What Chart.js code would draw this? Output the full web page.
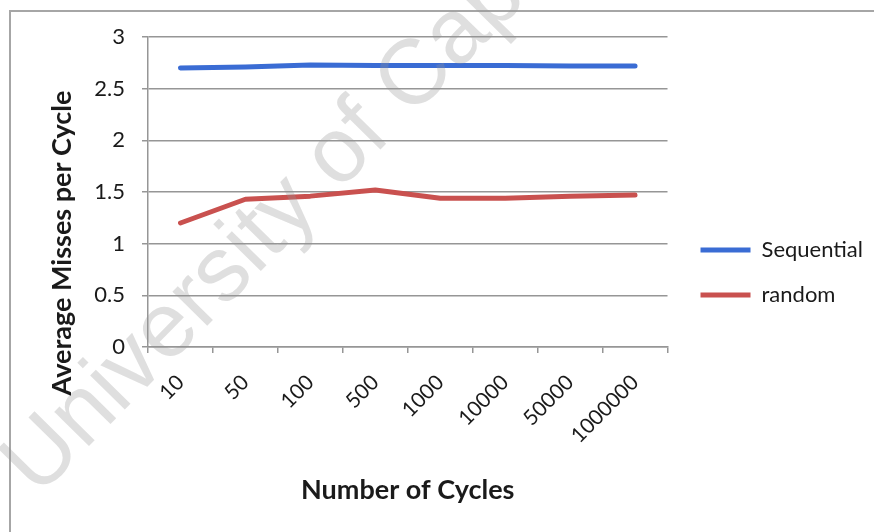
<!DOCTYPE html>
<html>
<head>
<meta charset="utf-8">
<script src="https://cdn.jsdelivr.net/npm/chart.js@4"></script>
<style>
  html, body { margin: 0; padding: 0; background: #ffffff; }
  #wrap { width: 874px; height: 532px; position: relative; }
</style>
</head>
<body>
<div id="wrap"><canvas id="c" width="874" height="532"></canvas></div>
<script>
const categories = ['10', '50', '100', '500', '1000', '10000', '50000', '1000000'];
const sequential = [2.70, 2.71, 2.73, 2.725, 2.725, 2.725, 2.72, 2.72];
const random = [1.20, 1.43, 1.46, 1.52, 1.44, 1.44, 1.46, 1.47];
const seriesNames = ['Sequential', 'random'];
const yTicks = [0, 0.5, 1, 1.5, 2, 2.5, 3];
const xTitle = 'Number of Cycles';
const yTitle = 'Average Misses per Cycle';
const watermark = 'University of Cape Town';

const FONT = 'Lato, "Open Sans", sans-serif';
const GRID = '#969696';

const framePlugin = {
  id: 'frame',
  beforeDraw(chart) {
    const ctx = chart.ctx;
    ctx.save();
    ctx.fillStyle = '#ffffff';
    ctx.fillRect(0, 0, chart.width, chart.height);
    ctx.strokeStyle = '#a6a6a6';
    ctx.lineWidth = 2;
    ctx.beginPath();
    ctx.moveTo(10, chart.height + 5);
    ctx.lineTo(10, 11);
    ctx.lineTo(chart.width + 5, 11);
    ctx.stroke();
    ctx.restore();
  },
  afterDatasetsDraw(chart) {
    const ctx = chart.ctx;
    ctx.save();
    ctx.translate(38, 498);
    ctx.rotate(-45.5 * Math.PI / 180);
    ctx.font = '92px "Liberation Sans", Arial, sans-serif';
    ctx.fillStyle = 'rgba(150,150,150,0.3)';
    ctx.textAlign = 'left';
    ctx.textBaseline = 'alphabetic';
    ctx.fillText(watermark, 0, 0);
    ctx.restore();
  },
  afterDraw(chart) {
    const ctx = chart.ctx;
    ctx.save();
    ctx.translate(62, 243);
    ctx.rotate(-Math.PI / 2);
    ctx.font = 'bold 27px ' + FONT;
    ctx.fillStyle = '#1a1a1a';
    ctx.textAlign = 'center';
    ctx.textBaseline = 'middle';
    ctx.fillText(yTitle, 0, 0);
    ctx.restore();
  },
  afterLayout(chart) {
    const l = chart.legend;
    if (l) { l.left += 10; l.right += 10; l.top -= 12; l.bottom -= 12; }
  }
};

new Chart(document.getElementById('c'), {
  type: 'line',
  data: {
    labels: categories,
    datasets: [
      { label: seriesNames[0], data: sequential, borderColor: '#3a6cd4', backgroundColor: '#3a6cd4',
        borderWidth: 5, pointRadius: 0, tension: 0, borderCapStyle: 'round', borderJoinStyle: 'round' },
      { label: seriesNames[1], data: random, borderColor: '#c9514f', backgroundColor: '#c9514f',
        borderWidth: 5, pointRadius: 0, tension: 0, borderCapStyle: 'round', borderJoinStyle: 'round' }
    ]
  },
  options: {
    responsive: false,
    animation: false,
    devicePixelRatio: 1,
    layout: { padding: { top: 37, right: 11, bottom: 0, left: 0 } },
    plugins: {
      tooltip: { enabled: false },
      legend: {
        position: 'right',
        labels: {
          boxWidth: 50, boxHeight: 5, padding: 23,
          color: '#1a1a1a',
          font: { family: FONT, size: 22 },
          generateLabels(chart) {
            const items = Chart.defaults.plugins.legend.labels.generateLabels(chart);
            items.forEach(it => { it.lineWidth = 0; it.fillStyle = it.strokeStyle; });
            return items;
          }
        }
      }
    },
    scales: {
      x: {
        type: 'category',
        offset: true,
        afterFit(scale) { scale.height = 185; },
        grid: { display: true, drawOnChartArea: false, drawTicks: true, tickLength: 6, offset: true, color: GRID, lineWidth: 1.5 },
        border: { display: true, color: GRID, width: 1.5 },
        ticks: { maxRotation: 45, minRotation: 45, padding: 17, color: '#1a1a1a', font: { family: FONT, size: 21 } },
        title: { display: true, text: xTitle, color: '#1a1a1a', font: { family: FONT, size: 27, weight: 'bold' }, padding: { top: 4, bottom: 26 } }
      },
      y: {
        min: 0, max: 3,
        afterFit(scale) { scale.width = 148; },
        afterBuildTicks(scale) { scale.ticks = yTicks.map(v => ({ value: v })); },
        grid: { color: GRID, lineWidth: 1.5, tickLength: 6, drawTicks: true },
        border: { display: true, color: GRID, width: 1.5 },
        ticks: { padding: 17, color: '#1a1a1a', font: { family: FONT, size: 22 }, callback: v => String(v) }
      }
    }
  },
  plugins: [framePlugin]
});
</script>
</body>
</html>
